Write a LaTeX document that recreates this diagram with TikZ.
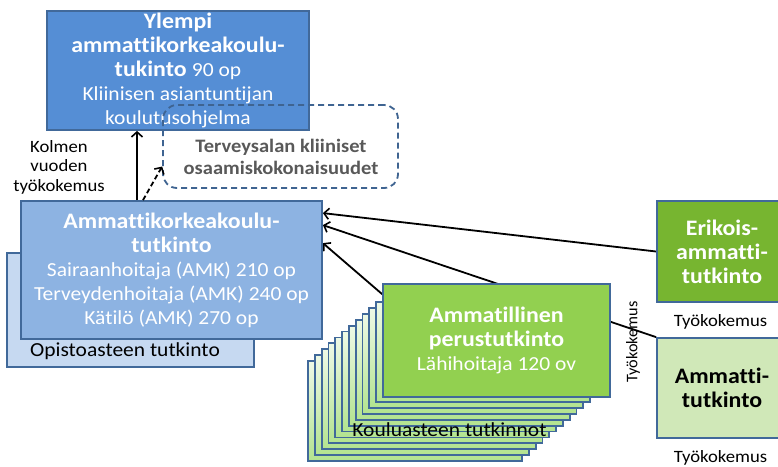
\documentclass[tikz,border=0pt]{standalone}
\usepackage{fontspec}
\setmainfont{Carlito}[FakeStretch=1.08,Ligatures={NoCommon,NoContextual}]
\newfontfamily\rotfont{Carlito}[Ligatures={NoCommon,NoContextual}]
\usetikzlibrary{arrows.meta}
\definecolor{bord}{HTML}{41699A}
\definecolor{topblue}{HTML}{558ED5}
\definecolor{amkblue}{HTML}{8DB3E2}
\definecolor{opblue}{HTML}{C6D9F1}
\definecolor{grfront}{HTML}{92D050}
\definecolor{grtop}{HTML}{EEF9E6}
\definecolor{grbot}{HTML}{B3E38F}
\definecolor{erik}{HTML}{77B530}
\definecolor{amlight}{HTML}{D0E8B8}
\definecolor{dgray}{HTML}{595959}
\definecolor{dashblue}{HTML}{3F6491}
\newcommand{\fB}{\fontsize{22.1}{24}\selectfont\bfseries}
\newcommand{\fR}{\fontsize{19.9}{22.5}\selectfont\mdseries}
\newcommand{\fD}{\fontsize{19}{22}\selectfont\bfseries}
\newcommand{\fK}{\fontsize{17.3}{19.5}\selectfont}
\pgfdeclarelayer{back}
\pgfdeclarelayer{bg}
\pgfsetlayers{back,bg,main}
\tikzset{
  box/.style={draw=bord, line width=1.8pt, inner sep=0pt, align=center},
  gback/.style={draw=bord, line width=1.8pt, top color=grtop, bottom color=grbot, minimum width=214pt, minimum height=100pt, inner sep=0pt},
  arr/.style={line width=1.8pt, -{Straight Barb[length=5pt,width=11pt,line width=1.6pt]}},
  plain/.style={inner sep=0pt, align=center}
}
\begin{document}
\begin{tikzpicture}[x=1pt,y=-1pt]
\begin{pgfonlayer}{back}
\fill[white] (0,0) rectangle (778,466);
\end{pgfonlayer}
\useasboundingbox (0,0) rectangle (778,466);
\clip (0,0) rectangle (778,466);

% blue boxes
\node[box, fill=opblue, minimum width=247pt, minimum height=114pt] (opisto) at (130.5,310) {};
\node[plain, font=\fR, text=black] (optext) at (125,351) {Opistoasteen tutkinto};
\node[box, fill=amkblue, minimum width=301pt, minimum height=138pt, text=white, font=\fB] (amk) at (171.5,270)
  {Ammattikorkeakoulu-\\tutkinto\\{\fR Sairaanhoitaja (AMK) 210 op}\\{\fR Terveydenhoitaja (AMK) 240 op}\\{\fR Kätilö (AMK) 270 op}};
\node[box, fill=topblue, minimum width=262pt, minimum height=119pt, text=white, font=\fB] (top) at (178,70.5)
  {Ylempi\\ammattikorkeakoulu-\\tukinto {\fR 90 op}\\{\fR Kliinisen asiantuntijan}\\{\fR koulutusohjelma}};
\node[draw=dashblue, line width=1.8pt, dash pattern=on 6pt off 4pt, rounded corners=14pt, minimum width=235pt, minimum height=83pt, inner sep=0pt] (dbox) at (280.5,146.5) {};
\node[plain, font=\fD, text=dgray] (dtext) at (281,157) {Terveysalan kliiniset\\osaamiskokonaisuudet};

% left arrows
\draw[arr] ([xshift=-34.5pt]amk.north) -- ([xshift=-41pt]top.south);
\draw[arr, dash pattern=on 5pt off 3pt] ([xshift=-28.5pt]amk.north) -- ([yshift=-20pt]dbox.west);
\node[plain, font=\fK] (kolmen) at (59,167) {Kolmen\\vuoden\\työkokemus};

% green stack
\foreach \k in {10,9,...,0} {
  \node[gback] (gb\k) at ({483-6.8*\k},{352+5.9*\k}) {};
}
\node[box, fill=grfront, minimum width=227pt, minimum height=113pt, text=white, font=\fB] (gfront) at (496.5,340.5)
  {Ammatillinen\\perustutkinto\\{\fR Lähihoitaja 120 ov}};
\node[plain, font=\fR, text=black] (koulu) at (449.5,430) {Kouluasteen tutkinnot};

% right boxes
\node[box, fill=erik, minimum width=130pt, minimum height=101pt, text=white, font=\fB] (erik) at (722,251.5) {Erikois-\\ammatti-\\tutkinto};
\node[box, fill=amlight, minimum width=130pt, minimum height=100pt, text=black, font=\fB] (ammatti) at (722,388) {Ammatti-\\tutkinto};
\node[plain, font=\fK] (tk1) at (720.5,322) {Työkokemus};
\node[plain, font=\fK] (tk2) at (720.5,458) {Työkokemus};
\node[plain, font=\rotfont\fontsize{16.2}{19.5}\selectfont, rotate=90] (tkv) at (633,342) {Työkokemus};

% right arrows behind
\begin{pgfonlayer}{bg}
\draw[arr] (erik.west) -- ([yshift=-13pt]amk.north east);
\draw[arr] (ammatti.north west) -- ([yshift=-25pt]amk.north east);
\draw[arr] ([yshift=-11pt]gfront.north west) -- ([yshift=-43pt]amk.north east);
\end{pgfonlayer}
\end{tikzpicture}
\end{document}
